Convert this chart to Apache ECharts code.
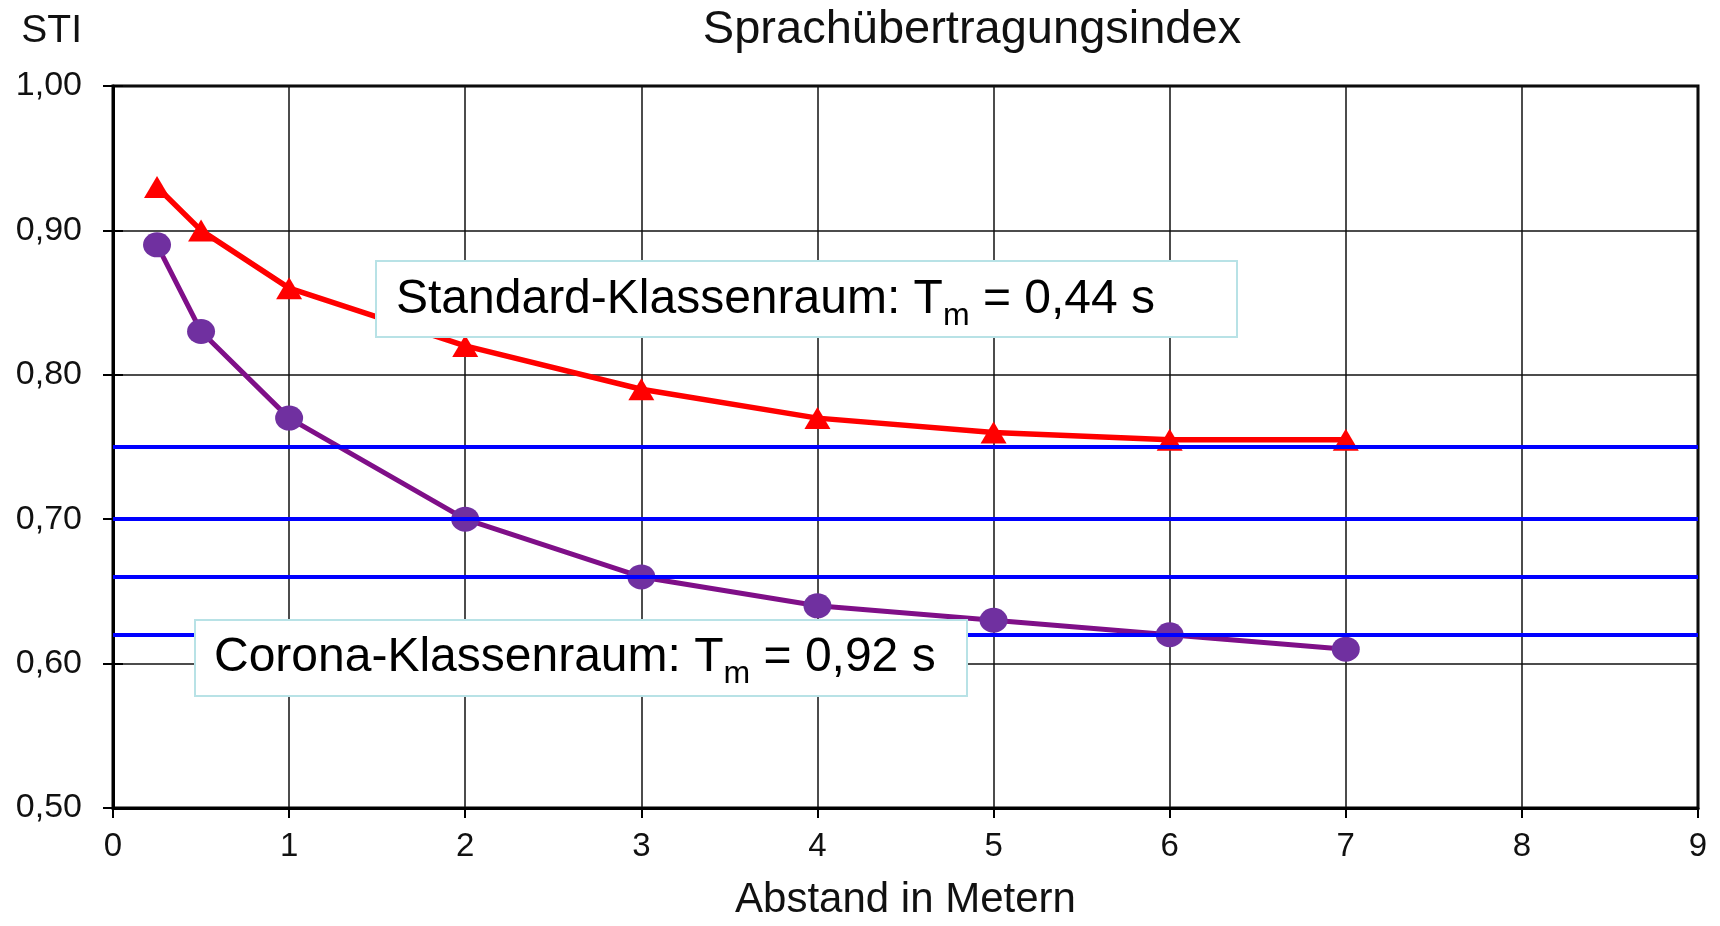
<!DOCTYPE html>
<html>
<head>
<meta charset="utf-8">
<script src="https://cdn.jsdelivr.net/npm/echarts@6/dist/echarts.min.js"></script>
<style>
html,body{margin:0;padding:0;background:#fff;}
#chart{width:1720px;height:926px;}
</style>
</head>
<body>
<div id="chart"></div>
<script>
// ---- data ----
const distances = [0.25, 0.5, 1, 2, 3, 4, 5, 6, 7];
const standardSTI = [0.93, 0.90, 0.86, 0.82, 0.79, 0.77, 0.76, 0.755, 0.755];
const coronaSTI = [0.89, 0.83, 0.77, 0.70, 0.66, 0.64, 0.63, 0.62, 0.61];
const thresholds = [0.75, 0.70, 0.66, 0.62];
const yTickLabels = ['0,50', '0,60', '0,70', '0,80', '0,90', '1,00'];
const xTickLabels = ['0', '1', '2', '3', '4', '5', '6', '7', '8', '9'];
const titleText = 'Sprachübertragungsindex';
const yName = 'STI';
const xName = 'Abstand in Metern';
const standardLabel = ['Standard-Klassenraum: T', 'm', ' = 0,44 s'];
const coronaLabel = ['Corona-Klassenraum: T', 'm', ' = 0,92 s'];

const FONT = "'Liberation Sans', Arial, sans-serif";

const chart = echarts.init(document.getElementById('chart'), null, {renderer: 'canvas'});

function pairs(xs, ys) { return xs.map((x, i) => [x, ys[i]]); }

const richStyles = {
  a: {fontSize: 48, fontFamily: FONT, color: '#000', lineHeight: 64, verticalAlign: 'middle'},
  s: {fontSize: 32, fontFamily: FONT, color: '#000', lineHeight: 32, verticalAlign: 'bottom'}
};

function labelText(parts) {
  return '{a|' + parts[0] + '}{s|' + parts[1] + '}{a|' + parts[2] + '}';
}

const option = {
  animation: false,
  backgroundColor: '#ffffff',
  title: {
    text: titleText,
    left: 967,
    top: 2,
    textAlign: 'center',
    textStyle: {fontSize: 47, fontWeight: 'normal', color: '#111', fontFamily: FONT}
  },
  grid: {
    left: 113, right: 22, top: 86, bottom: 110,
    show: true, borderColor: '#000', borderWidth: 3, containLabel: false
  },
  xAxis: {
    type: 'value', min: 0, max: 9, interval: 1,
    name: xName, nameLocation: 'middle', nameGap: 71,
    nameTextStyle: {fontSize: 42, color: '#111', fontFamily: FONT},
    axisLine: {show: true, lineStyle: {color: '#000', width: 3}},
    axisTick: {show: true, length: 10, lineStyle: {color: '#000', width: 2}},
    axisLabel: {
      margin: 22, fontSize: 33, color: '#111', fontFamily: FONT,
      formatter: v => xTickLabels[Math.round(v)]
    },
    splitLine: {show: true, lineStyle: {color: '#111', width: 1.5}}
  },
  yAxis: [{
    type: 'value', min: 0.5, max: 1.0, interval: 0.1,
    name: yName, nameLocation: 'end', nameGap: 55,
    nameTextStyle: {fontSize: 39, color: '#111', fontFamily: FONT, align: 'right', verticalAlign: 'middle', padding: [0, 31, 0, 0]},
    axisLine: {show: true, lineStyle: {color: '#000', width: 3}},
    axisTick: {show: true, length: 10, lineStyle: {color: '#000', width: 2}},
    axisLabel: {
      margin: 31, fontSize: 34, color: '#111', fontFamily: FONT,
      formatter: v => yTickLabels[Math.round((v - 0.5) * 10)]
    },
    splitLine: {show: true, lineStyle: {color: '#111', width: 1.5}}
  }, {
    type: 'value', min: 0.5, max: 1.0, interval: 0.1, position: 'left',
    axisLine: {show: false},
    axisTick: {show: true, inside: true, length: 10, lineStyle: {color: '#000', width: 2}},
    axisLabel: {show: false},
    splitLine: {show: false}
  }],
  series: [
    {
      name: 'Grenzwerte', type: 'line', data: [], z: 1, silent: true,
      markLine: {
        silent: true, symbol: 'none', animation: false,
        label: {show: false},
        lineStyle: {color: '#0000ff', width: 4, type: 'solid'},
        emphasis: {disabled: true},
        data: thresholds.map(v => ({yAxis: v}))
      }
    },
    {
      name: 'Corona-Klassenraum', type: 'line', z: 3,
      data: pairs(distances, coronaSTI),
      symbol: 'circle', symbolSize: [28, 25],
      lineStyle: {color: '#7f0f88', width: 5},
      itemStyle: {color: '#7030a0'}
    },
    {
      name: 'Standard-Klassenraum', type: 'line', z: 4,
      data: pairs(distances, standardSTI),
      symbol: 'triangle', symbolSize: [26, 22],
      lineStyle: {color: '#ff0000', width: 5.5},
      itemStyle: {color: '#ff0000'}
    }
  ],
  graphic: [
    {type: 'rect', z: 100, shape: {x: 376, y: 261, width: 861, height: 76},
     style: {fill: '#ffffff', stroke: '#b8e2e6', lineWidth: 2}},
    {type: 'text', z: 101, x: 396, y: 300,
     style: {text: labelText(standardLabel), rich: richStyles, verticalAlign: 'middle', align: 'left'}},
    {type: 'rect', z: 100, shape: {x: 195, y: 620, width: 772, height: 76},
     style: {fill: '#ffffff', stroke: '#b8e2e6', lineWidth: 2}},
    {type: 'text', z: 101, x: 214, y: 658,
     style: {text: labelText(coronaLabel), rich: richStyles, verticalAlign: 'middle', align: 'left'}}
  ]
};

chart.setOption(option);
</script>
</body>
</html>
